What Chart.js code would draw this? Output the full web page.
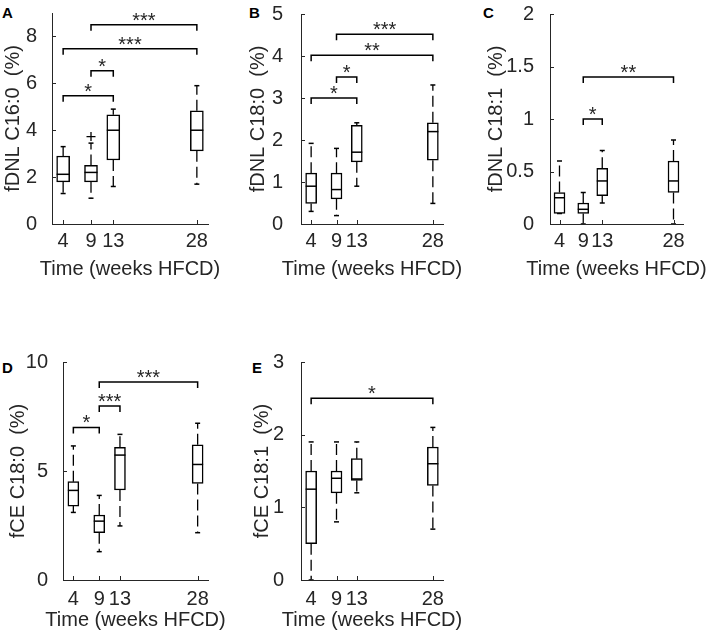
<!DOCTYPE html>
<html>
<head>
<meta charset="utf-8">
<script src="https://cdn.jsdelivr.net/npm/chart.js@4.4.1/dist/chart.umd.min.js"></script>
<style>
  body { margin: 0; background: #fff; width: 709px; height: 636px; position: relative; overflow: hidden; font-family: "Liberation Sans", Arial, sans-serif; }
  canvas { position: absolute; }
  .lbl { position: absolute; font-weight: bold; font-size: 15px; line-height: 15px; color: #000; }
</style>
</head>
<body>
<div class="lbl" style="left:2px;top:5px">A</div>
<div class="lbl" style="left:249px;top:5px">B</div>
<div class="lbl" style="left:483px;top:5px">C</div>
<div class="lbl" style="left:2px;top:360px">D</div>
<div class="lbl" style="left:252px;top:360px">E</div>

<canvas id="cA" width="230" height="290" style="left:0px;top:0px"></canvas>
<canvas id="cB" width="225" height="290" style="left:245px;top:0px"></canvas>
<canvas id="cC" width="226" height="290" style="left:483px;top:0px"></canvas>
<canvas id="cD" width="230" height="301" style="left:5px;top:340px"></canvas>
<canvas id="cE" width="225" height="301" style="left:249px;top:340px"></canvas>

<script>
// semanas de dieta (eje x)
const weeks = [4, 9, 13, 28]
const xTitle = "Time (weeks HFCD)"

// A: fDNL C16:0
const aLow = [1.3, 1.1, 1.6, 1.7]
const aQ1 = [1.8, 1.8, 2.73, 3.12]
const aMed = [2.12, 2.2, 4.0, 4.0]
const aQ3 = [2.9, 2.5, 4.66, 4.83]
const aHigh = [3.3, 3.45, 4.9, 5.9]
const aOutliers = [[9, 3.73]]
const aTicks = [0, 2, 4, 6, 8]
const aBrackets = [[9, 28, 8.5, "***"], [4, 28, 7.47, "***"], [9, 13, 6.54, "*"], [4, 13, 5.47, "*"]]

// B: fDNL C18:0
const bLow = [0.3, 0.2, 0.9, 0.49]
const bQ1 = [0.49, 0.6, 1.48, 1.52]
const bMed = [0.9, 0.82, 1.71, 2.2]
const bQ3 = [1.21, 1.21, 2.35, 2.41]
const bHigh = [1.92, 1.8, 2.41, 3.31]
const bTicks = [0, 1, 2, 3, 4, 5]
const bBrackets = [[9, 28, 4.52, "***"], [4, 28, 4.02, "**"], [9, 13, 3.5, "*"], [4, 13, 3.0, "*"]]

// C: fDNL C18:1
const cLow = [0.1, 0, 0.2, 0]
const cQ1 = [0.1, 0.1, 0.27, 0.3]
const cMed = [0.25, 0.14, 0.41, 0.41]
const cQ3 = [0.3, 0.2, 0.53, 0.6]
const cHigh = [0.6, 0.3, 0.7, 0.8]
const cTicks = [0, 0.5, 1, 1.5, 2]
const cBrackets = [[9, 28, 1.4, "**"], [9, 13, 1.0, "*"]]

// D: fCE C18:0
const dLow = [3.1, 1.3, 2.48, 2.17]
const dQ1 = [3.39, 2.17, 4.13, 4.43]
const dMed = [4.11, 2.7, 5.73, 5.3]
const dQ3 = [4.51, 2.98, 6.09, 6.2]
const dHigh = [6.15, 3.88, 6.68, 7.19]
const dTicks = [0, 5, 10]
const dBrackets = [[9, 28, 9.08, "***"], [9, 13, 7.98, "***"], [4, 9, 7.0, "*"]]

// E: fCE C18:1
const eLow = [0, 0.8, 1.2, 0.7]
const eQ1 = [0.5, 1.2, 1.37, 1.3]
const eMed = [1.25, 1.4, 1.39, 1.6]
const eQ3 = [1.5, 1.5, 1.67, 1.83]
const eHigh = [1.9, 1.9, 1.9, 2.1]
const eTicks = [0, 1, 2, 3]
const eBrackets = [[4, 28, 2.5, "*"]]

const FONT = '"Liberation Sans", Arial, Helvetica, sans-serif'
const AXIS = "#262626"
Chart.defaults.font.family = FONT

// Plugin: corchetes de significancia, ticks hacia adentro y titulo del eje x
const boxExtras = {
    id: "boxExtras",
    afterDraw(chart, args, opts) {
        const { ctx, chartArea } = chart
        const x = chart.scales.x
        const y = chart.scales.y
        ctx.save()

        // ticks hacia adentro (estilo MATLAB)
        ctx.strokeStyle = AXIS
        ctx.lineWidth = 1
        ctx.beginPath()
        x.ticks.forEach(t => {
            const px = Math.round(x.getPixelForValue(t.value)) + 0.5
            ctx.moveTo(px, chartArea.bottom)
            ctx.lineTo(px, chartArea.bottom - 4)
        })
        y.ticks.forEach(t => {
            const py = Math.round(y.getPixelForValue(t.value)) + 0.5
            ctx.moveTo(chartArea.left, py)
            ctx.lineTo(chartArea.left + 4, py)
        })
        ctx.stroke()

        // titulo del eje x (sin compresion por maxWidth)
        ctx.fillStyle = AXIS
        ctx.font = "20px " + FONT
        ctx.textAlign = "center"
        ctx.textBaseline = "middle"
        ctx.fillText(xTitle, (chartArea.left + chartArea.right) / 2, chartArea.bottom + opts.titleGap)

        // corchetes
        ctx.strokeStyle = "#000"
        ctx.lineWidth = 1.5
        ctx.textBaseline = "alphabetic"
        opts.brackets.forEach(([from, to, level, label]) => {
            const xa = x.getPixelForValue(from)
            const xb = x.getPixelForValue(to)
            const py = y.getPixelForValue(level)
            ctx.beginPath()
            ctx.moveTo(xa, py + 6)
            ctx.lineTo(xa, py)
            ctx.lineTo(xb, py)
            ctx.lineTo(xb, py + 6)
            ctx.stroke()
            ctx.fillText(label, (xa + xb) / 2, py + 2)
        })
        ctx.restore()
    }
}

function makePanel(id, p) {
    const boxes = weeks.map((w, i) => ({ x: w, y: [p.q1[i], p.q3[i]] }))
    const whiskers = []
    weeks.forEach((w, i) => {
        whiskers.push({ x: w, y: p.q3[i] }, { x: w, y: p.high[i] }, { x: w, y: null })
        whiskers.push({ x: w, y: p.q1[i] }, { x: w, y: p.low[i] }, { x: w, y: null })
    })
    const caps = weeks.flatMap((w, i) => [{ x: w, y: p.high[i] }, { x: w, y: p.low[i] }])
    const medians = weeks.map((w, i) => ({ x: w, y: p.med[i] }))
    const outliers = (p.outliers || []).map(([w, v]) => ({ x: w, y: v }))

    new Chart(document.getElementById(id), {
        type: "bar",
        data: {
            datasets: [
                {
                    type: "line", data: medians, showLine: false,
                    pointStyle: "line", pointRadius: p.boxW / 2, borderColor: "#000", borderWidth: 1.5, order: 0
                },
                {
                    type: "line", data: outliers, showLine: false,
                    pointStyle: "cross", pointRadius: 4.5, borderColor: "#000", borderWidth: 1.3, order: 0
                },
                {
                    type: "bar", data: boxes, backgroundColor: "#fff", borderColor: "#000",
                    borderWidth: 1.5, borderSkipped: false, barThickness: p.boxW, order: 1
                },
                {
                    type: "line", data: caps, showLine: false,
                    pointStyle: "line", pointRadius: 2.5, borderColor: "#000", borderWidth: 1.5, order: 2
                },
                {
                    type: "line", data: whiskers, spanGaps: false, pointRadius: 0,
                    borderColor: "#000", borderWidth: 1.3, borderDash: [11, 5], order: 3
                }
            ]
        },
        options: {
            responsive: false,
            devicePixelRatio: 1,
            animation: false,
            events: [],
            layout: { padding: { left: 0, top: p.padTop, right: p.padRight, bottom: 0 } },
            plugins: {
                legend: { display: false },
                tooltip: { enabled: false },
                boxExtras: { brackets: p.brackets, titleGap: p.titleGap }
            },
            scales: {
                x: {
                    type: "linear", min: 2, max: 30, offset: false,
                    grid: { display: false },
                    border: { display: true, color: AXIS, width: 1 },
                    afterBuildTicks: s => { s.ticks = weeks.map(v => ({ value: v })) },
                    afterFit: s => { s.height = p.xH; s.paddingLeft = 0; s.paddingRight = 0 },
                    ticks: { color: AXIS, font: { size: 20 }, padding: p.xPad, autoSkip: false, maxRotation: 0, callback: v => String(v) }
                },
                y: {
                    type: "linear", min: 0, max: p.yMax,
                    grid: { display: false },
                    border: { display: true, color: AXIS, width: 1 },
                    afterBuildTicks: s => { s.ticks = p.ticks.map(v => ({ value: v })) },
                    afterFit: s => { s.width = p.yW; s.paddingTop = 0; s.paddingBottom = 0 },
                    ticks: { color: AXIS, font: { size: 20 }, padding: p.yPad, callback: v => String(v) },
                    title: { display: true, text: p.yTitle, color: AXIS, font: { size: 20 }, padding: { top: 1, bottom: 0 } }
                }
            }
        },
        plugins: [boxExtras]
    })
}

makePanel("cA", {
    low: aLow, q1: aQ1, med: aMed, q3: aQ3, high: aHigh, outliers: aOutliers,
    ticks: aTicks, yMax: 9, brackets: aBrackets, yTitle: "fDNL C16:0  (%)",
    boxW: 13, yW: 52, yPad: 7, padTop: 13, padRight: 22, xH: 66, xPad: -3, titleGap: 45
})
makePanel("cB", {
    low: bLow, q1: bQ1, med: bMed, q3: bQ3, high: bHigh,
    ticks: bTicks, yMax: 5, brackets: bBrackets, yTitle: "fDNL C18:0  (%)",
    boxW: 11, yW: 56, yPad: 10, padTop: 14, padRight: 27, xH: 66, xPad: -3, titleGap: 45
})
makePanel("cC", {
    low: cLow, q1: cQ1, med: cMed, q3: cQ3, high: cHigh,
    ticks: cTicks, yMax: 2, brackets: cBrackets, yTitle: "fDNL C18:1  (%)",
    boxW: 11, yW: 67, yPad: 8, padTop: 14, padRight: 26, xH: 66, xPad: -3, titleGap: 45
})
makePanel("cD", {
    low: dLow, q1: dQ1, med: dMed, q3: dQ3, high: dHigh,
    ticks: dTicks, yMax: 10, brackets: dBrackets, yTitle: "fCE C18:0  (%)",
    boxW: 11, yW: 58, yPad: 7, padTop: 22, padRight: 27, xH: 61, xPad: -1, titleGap: 40
})
makePanel("cE", {
    low: eLow, q1: eQ1, med: eMed, q3: eQ3, high: eHigh,
    ticks: eTicks, yMax: 3, brackets: eBrackets, yTitle: "fCE C18:1  (%)",
    boxW: 11, yW: 52, yPad: 9, padTop: 22, padRight: 31, xH: 61, xPad: -1, titleGap: 40
})
</script>
</body>
</html>
